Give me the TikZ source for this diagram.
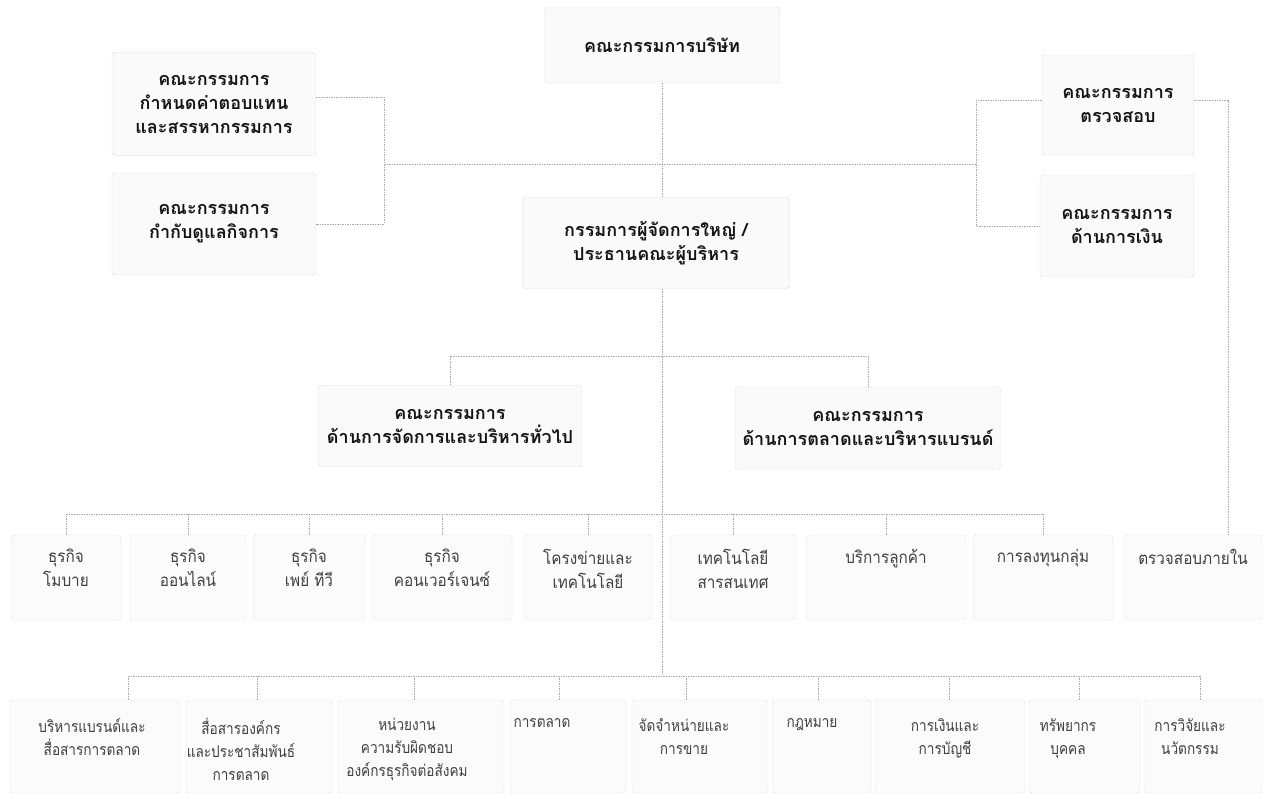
\documentclass[tikz,border=0pt]{standalone}
\usepackage{fontspec}
\newfontfamily\thaifont[Script=Thai]{Loma}
\newfontfamily\thairowa[Script=Thai, FakeStretch=0.9]{Loma}
\newfontfamily\thairowb[Script=Thai, FakeStretch=0.85]{Loma}
\usetikzlibrary{calc}
\begin{document}
\begin{tikzpicture}[x=1pt,y=-1pt,
  hbox/.style={draw=gray!45, dash pattern=on 1pt off 1pt, fill=gray!4, rounded corners=3pt,
    font=\thaifont\bfseries\fontsize{18}{24}\selectfont, align=center, text=black!92, inner sep=0pt},
  ubox/.style={draw=gray!40, dash pattern=on 1pt off 1pt, fill=gray!3, rounded corners=3pt, inner sep=0pt},
  utext/.style={font=\thairowa\fontsize{17}{24}\selectfont, align=center, text=black!75, anchor=north, inner sep=0pt},
  vtext/.style={font=\thairowb\fontsize{16}{23}\selectfont, align=center, text=black!75, anchor=north, inner sep=0pt},
  conn/.style={draw=gray!65, dash pattern=on 1.5pt off 1pt, line width=0.7pt}]
\useasboundingbox[fill=white] (0,0) rectangle (1266,798);

% ---- header boxes
\node[hbox, minimum width=235pt, minimum height=76pt] (top) at (662,45) {คณะกรรมการบริษัท};
\node[hbox, minimum width=204pt, minimum height=103pt] (L1) at (214,104) {คณะกรรมการ\\กำหนดค่าตอบแทน\\และสรรหากรรมการ};
\node[hbox, minimum width=204pt, minimum height=102pt] (L2) at (214,224) {คณะกรรมการ\\กำกับดูแลกิจการ};
\node[hbox, minimum width=152pt, minimum height=100pt] (R1) at (1118,105) {คณะกรรมการ\\ตรวจสอบ};
\node[hbox, minimum width=154pt, minimum height=102pt] (R2) at (1117,226) {คณะกรรมการ\\ด้านการเงิน};
\node[hbox, minimum width=267pt, minimum height=91pt] (ceo) at (656,243) {กรรมการผู้จัดการใหญ่ /\\ประธานคณะผู้บริหาร};
\node[hbox, minimum width=264pt, minimum height=81pt] (mg) at (450,426) {คณะกรรมการ\\ด้านการจัดการและบริหารทั่วไป};
\node[hbox, minimum width=266pt, minimum height=82pt] (mk) at (868,428) {คณะกรรมการ\\ด้านการตลาดและบริหารแบรนด์};

% ---- row 1
\foreach \n/\cx/\w in {a1/66/110, a2/188/116, a3/309/112, a4/442/140, a5/588/128,
                       a6/733/126, a7/886/160, a8/1043/140, a9/1193/138}
  \node[ubox, minimum width=\w pt, minimum height=85pt] (\n) at (\cx,577.5) {};
\node[utext] (ta1) at (a1.north |- 0,549) {ธุรกิจ\\โมบาย};
\node[utext] (ta2) at (a2.north |- 0,549) {ธุรกิจ\\ออนไลน์};
\node[utext] (ta3) at (a3.north |- 0,549) {ธุรกิจ\\เพย์ ทีวี};
\node[utext] (ta4) at (a4.north |- 0,549) {ธุรกิจ\\คอนเวอร์เจนซ์};
\node[utext] (ta5) at (a5.north |- 0,549) {โครงข่ายและ\\เทคโนโลยี};
\node[utext] (ta6) at (a6.north |- 0,549) {เทคโนโลยี\\สารสนเทศ};
\node[utext] (ta7) at (a7.north |- 0,549) {บริการลูกค้า};
\node[utext] (ta8) at (a8.north |- 0,549) {การลงทุนกลุ่ม};
\node[utext] (ta9) at (a9.north |- 0,549) {ตรวจสอบภายใน};

% ---- row 2
\foreach \n/\cx/\w in {c1/95/170, c2/259/146, c3/421/166, c4/568/116, c5/700/136,
                       c6/821.5/99, c7/950/150, c8/1084.5/111, c9/1203/118}
  \node[ubox, minimum width=\w pt, minimum height=93pt] (\n) at (\cx,746.5) {};
\node[vtext] (tc1) at (92,718) {บริหารแบรนด์และ\\สื่อสารการตลาด};
\node[vtext] (tc2) at (241,718) {สื่อสารองค์กร\\และประชาสัมพันธ์\\การตลาด};
\node[vtext] (tc3) at (407,718) {หน่วยงาน\\ความรับผิดชอบ\\องค์กรธุรกิจต่อสังคม};
\node[vtext] (tc4) at (542,718) {การตลาด};
\node[vtext] (tc5) at (684,718) {จัดจำหน่ายและ\\การขาย};
\node[vtext] (tc6) at (812,718) {กฎหมาย};
\node[vtext] (tc7) at (945,718) {การเงินและ\\การบัญชี};
\node[vtext] (tc8) at (1068,718) {ทรัพยากร\\บุคคล};
\node[vtext] (tc9) at (1190,718) {การวิจัยและ\\นวัตกรรม};

% ---- helper coordinates
\coordinate (lb) at (384,164);
\coordinate (rb) at (976,164);
\coordinate (rl) at (1228,0);
\coordinate (cl) at (0,356);
\coordinate (bus1) at (0,514);
\coordinate (bus2) at (0,676);
\foreach \n/\sx in {s1/128, s2/257, s3/414, s4/559, s5/686, s6/818, s7/949, s8/1079, s9/1200}
  \coordinate (\n) at (\sx,0);

% ---- connectors
\draw[conn] (top.south) -- (top.south |- ceo.north);
\draw[conn] (lb) -- (rb);
\draw[conn] ([yshift=7pt]L1.east) -| (lb) |- (L2.east);
\draw[conn] ([yshift=5pt]R1.west) -| (rb) |- (R2.west);
\draw[conn] ([yshift=5pt]R1.east) -| (rl |- a9.north);
\draw[conn] (top.south |- ceo.south) -- (top.south |- bus2);
\draw[conn] (mg.north) -- (mg.north |- cl) -- (mk.north |- cl) -- (mk.north);
\draw[conn] (a1.north |- bus1) -- (a8.north |- bus1);
\foreach \n in {a1,a2,a3,a4,a5,a6,a7,a8}
  \draw[conn] (\n.north) -- (\n.north |- bus1);
\draw[conn] (s1 |- bus2) -- (s9 |- bus2);
\foreach \i in {1,...,9}
  \draw[conn] (c\i.north -| s\i) -- (s\i |- bus2);
\end{tikzpicture}
\end{document}
